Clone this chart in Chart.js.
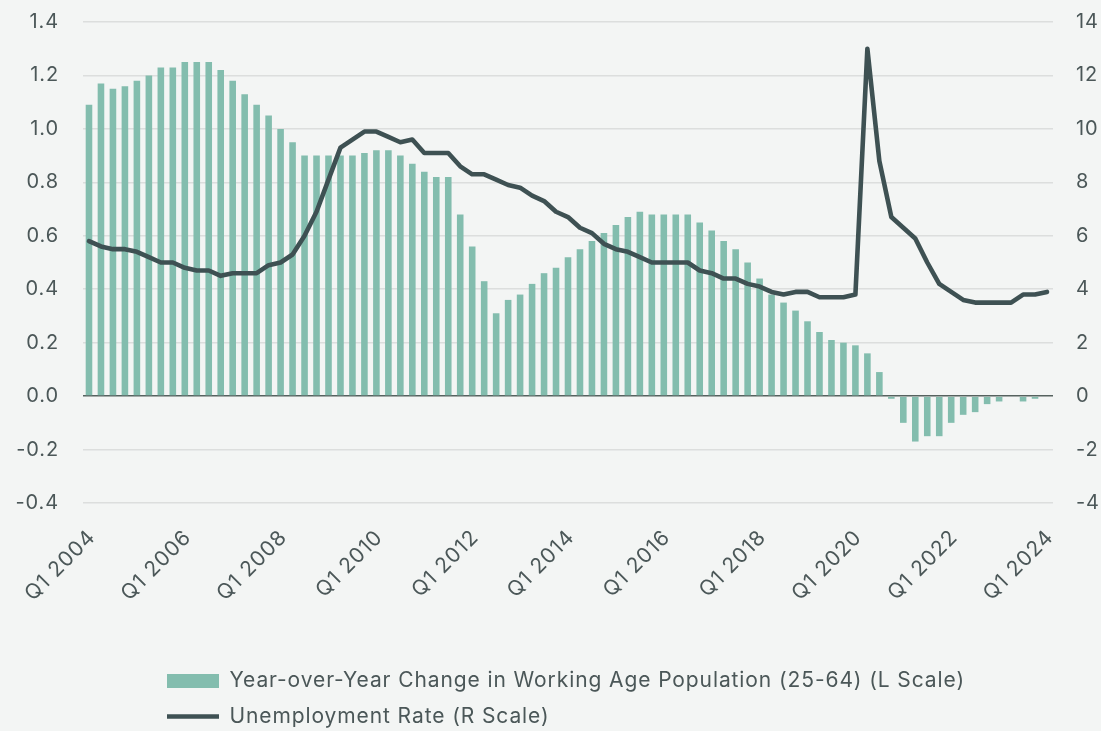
<!DOCTYPE html>
<html>
<head>
<meta charset="utf-8">
<script src="https://cdn.jsdelivr.net/npm/chart.js@4.4.1/dist/chart.umd.min.js"></script>
<style>
  html, body { margin: 0; padding: 0; background: #f3f5f4; }
  #wrap { width: 1101px; height: 731px; position: relative; }
</style>
</head>
<body>
<div id="wrap"><canvas id="chart"></canvas></div>
<script>
// quarters Q1 2004 .. Q1 2024
const quarters = [];
for (let y = 2004; y <= 2024; y++) {
  for (let q = 1; q <= 4; q++) {
    if (y === 2024 && q > 1) break;
    quarters.push('Q' + q + ' ' + y);
  }
}

// YoY change in working age population (25-64), left scale
const popChange = [
  1.09, 1.17, 1.15, 1.16, 1.18, 1.20, 1.23, 1.23, 1.25, 1.25, 1.25, 1.22, 1.18,
  1.13, 1.09, 1.05, 1.00, 0.95, 0.90, 0.90, 0.90, 0.90, 0.90, 0.91, 0.92, 0.92,
  0.90, 0.87, 0.84, 0.82, 0.82, 0.68, 0.56, 0.43, 0.31, 0.36, 0.38, 0.42, 0.46,
  0.48, 0.52, 0.55, 0.58, 0.61, 0.64, 0.67, 0.69, 0.68, 0.68, 0.68, 0.68, 0.65, 0.62,
  0.58, 0.55, 0.50, 0.44, 0.38, 0.35, 0.32, 0.28, 0.24, 0.21, 0.20, 0.19, 0.16,
  0.09, -0.01, -0.10, -0.17, -0.15, -0.15, -0.10, -0.07, -0.06, -0.03, -0.02,
  0.00, -0.02, -0.01, 0.00
];

// unemployment rate, right scale
const unemployment = [
  5.8, 5.6, 5.5, 5.5, 5.4, 5.2, 5.0, 5.0, 4.8, 4.7, 4.7, 4.5, 4.6, 4.6, 4.6, 4.9,
  5.0, 5.3, 6.0, 6.9, 8.1, 9.3, 9.6, 9.9,
  9.9, 9.7, 9.5, 9.6, 9.1, 9.1, 9.1, 8.6, 8.3, 8.3, 8.1, 7.9, 7.8, 7.5, 7.3, 6.9,
  6.7, 6.3, 6.1, 5.7, 5.5, 5.4, 5.2, 5.0, 5.0, 5.0, 5.0, 4.7, 4.6,
  4.4, 4.4, 4.2, 4.1, 3.9, 3.8, 3.9, 3.9, 3.7, 3.7, 3.7, 3.8, 13.0, 8.8, 6.7, 6.3,
  5.9, 5.0, 4.2, 3.9, 3.6, 3.5, 3.5, 3.5, 3.5, 3.8, 3.8, 3.9
];

const leftTicks = [-0.4, -0.2, 0.0, 0.2, 0.4, 0.6, 0.8, 1.0, 1.2, 1.4];
const rightTicks = [-4, -2, 0, 2, 4, 6, 8, 10, 12, 14];

const BAR = '#83bdae';
const LINE = '#3e5153';
const TEXT = '#4b5758';

Chart.defaults.font.family = 'Inter, "Noto Sans", sans-serif';
Chart.defaults.color = TEXT;

// legend sits under the plot, starting at the left of the first label
const legendShift = {
  id: 'legendShift',
  afterLayout(chart) {
    chart.legend.left += 152.5;
    chart.legend.top += 6;
  }
};

// the original type is tracked a little wider than Inter
const tracking = {
  id: 'tracking',
  beforeUpdate(chart) { chart.ctx.letterSpacing = '0.9px'; },
  beforeDraw(chart) { chart.ctx.letterSpacing = '0.9px'; }
};

const noVPad = scale => { scale.paddingTop = 0; scale.paddingBottom = 0; };

new Chart(document.getElementById('chart'), {
  type: 'bar',
  data: {
    labels: quarters,
    datasets: [
      {
        type: 'bar',
        label: 'Year-over-Year Change in Working Age Population (25-64) (L Scale)',
        data: popChange,
        yAxisID: 'y',
        backgroundColor: BAR,
        borderWidth: 0,
        barPercentage: 0.55,
        categoryPercentage: 1,
        pointStyle: 'rect',
        order: 1
      },
      {
        type: 'line',
        label: 'Unemployment Rate (R Scale)',
        data: unemployment,
        yAxisID: 'y2',
        borderColor: LINE,
        backgroundColor: LINE,
        borderWidth: 4.6,
        borderCapStyle: 'round',
        borderJoinStyle: 'round',
        pointRadius: 0,
        pointStyle: 'line',
        tension: 0,
        order: 0
      }
    ]
  },
  options: {
    responsive: true,
    maintainAspectRatio: false,
    animation: false,
    layout: { padding: { top: 22, left: 0, right: 0, bottom: 0 } },
    plugins: {
      tooltip: { enabled: false },
      legend: {
        position: 'bottom',
        align: 'start',
        labels: {
          usePointStyle: true,
          pointStyleWidth: 52,
          boxHeight: 14,
          padding: 14.5,
          color: TEXT,
          font: { size: 21 },
          sort: (a, b) => a.datasetIndex - b.datasetIndex
        }
      }
    },
    scales: {
      x: {
        grid: { display: false, drawTicks: false },
        border: { display: false },
        afterFit(scale) { scale.height = 147; },
        ticks: {
          autoSkip: false,
          minRotation: 45,
          maxRotation: 45,
          padding: 22,
          labelOffset: 3,
          font: { size: 21 },
          callback(value, index) {
            return index % 8 === 0 ? quarters[index] : '';
          }
        }
      },
      y: {
        position: 'left',
        min: leftTicks[0],
        max: leftTicks[leftTicks.length - 1],
        afterFit(scale) { scale.width = 83; noVPad(scale); },
        afterBuildTicks(scale) { scale.ticks = leftTicks.map(v => ({ value: v })); },
        border: { display: false },
        grid: {
          drawTicks: false,
          lineWidth: 1.5,
          color: ctx => (ctx.tick && ctx.tick.value === 0 ? '#56625f' : '#dcdedd')
        },
        ticks: {
          padding: 24,
          font: { size: 20 },
          callback: v => v.toFixed(1)
        }
      },
      y2: {
        position: 'right',
        min: rightTicks[0],
        max: rightTicks[rightTicks.length - 1],
        afterFit(scale) { scale.width = 48; noVPad(scale); },
        afterBuildTicks(scale) { scale.ticks = rightTicks.map(v => ({ value: v })); },
        border: { display: false },
        grid: { display: false, drawOnChartArea: false, drawTicks: false },
        ticks: {
          padding: 23,
          font: { size: 20 },
          callback: v => String(v)
        }
      }
    }
  },
  plugins: [legendShift, tracking]
});
</script>
</body>
</html>
